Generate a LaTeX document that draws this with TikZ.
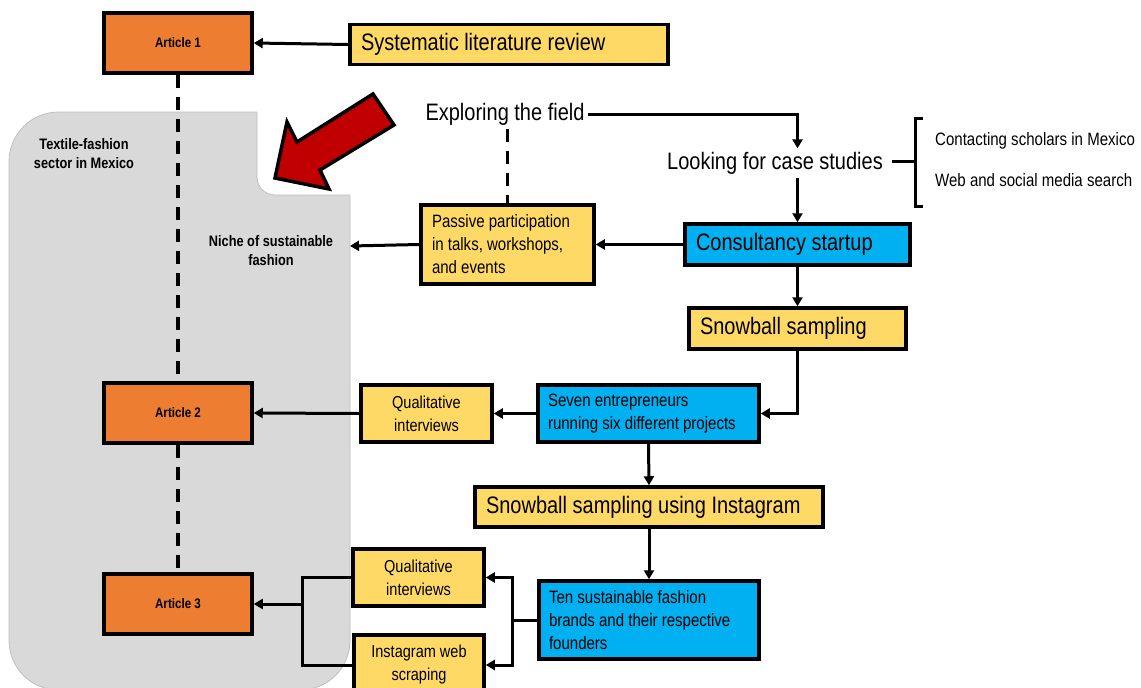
\documentclass[tikz,border=0pt]{standalone}
\usepackage{fontspec}
\setmainfont{Liberation Sans}
\newfontfamily\narrowsans{Liberation Sans}[FakeStretch=0.84]
\usetikzlibrary{arrows.meta}
\definecolor{artorange}{HTML}{ED7D31}
\definecolor{stepyellow}{HTML}{FFD966}
\definecolor{caseblue}{HTML}{00B0F0}
\definecolor{sectorgray}{HTML}{D9D9D9}
\definecolor{sectoredge}{HTML}{BFBFBF}
\definecolor{pointred}{HTML}{C00000}
\tikzset{
  box/.style={draw=black, line width=3.5pt, inner ysep=0pt},
  article/.style={box, fill=artorange, minimum width=148pt, minimum height=60pt,
    inner xsep=0pt, font=\narrowsans\bfseries\fontsize{13.8pt}{16pt}\selectfont},
  bigtext/.style={font=\narrowsans\fontsize{23.8pt}{28pt}\selectfont},
  smalltext/.style={font=\narrowsans\fontsize{17.9pt}{23pt}\selectfont},
  qualtext/.style={font=\narrowsans\fontsize{17.3pt}{23pt}\selectfont},
  labeltext/.style={font=\narrowsans\bfseries\fontsize{15.2pt}{19pt}\selectfont, align=flush center},
  ybig/.style={box, fill=stepyellow, bigtext, align=flush left, inner xsep=11pt},
  bbig/.style={box, fill=caseblue, bigtext, align=flush left, inner xsep=11pt},
  ysmall/.style={box, fill=stepyellow, qualtext, align=flush center, inner xsep=0pt},
  bsmall/.style={box, fill=caseblue, smalltext, align=flush left, inner xsep=10pt},
  conn/.style={line width=3pt, -{Triangle[length=9pt,width=10pt]}},
  plain/.style={line width=3pt},
  dashline/.style={line width=3.5pt, dash pattern=on 13pt off 9pt},
}
\begin{document}
\begin{tikzpicture}[x=1pt, y=-1pt]
\useasboundingbox (0,0) rectangle (1141,688);

% sector background with the notch for the niche
\filldraw[fill=sectorgray, draw=sectoredge, line width=0.8pt]
  (59,112) -- (257,112) -- (257,177) .. controls (257,187) and (265,195) .. (275,195)
  -- (350,195) -- (350,640) .. controls (350,668) and (328,690) .. (300,690)
  -- (59,690) .. controls (31,690) and (9,668) .. (9,640)
  -- (9,162) .. controls (9,134) and (31,112) .. (59,112) -- cycle;

% red block arrow into the niche
\filldraw[fill=pointred, draw=black, line width=3.5pt, line join=miter]
  (275,178) -- (287,122) -- (297,142) -- (373,94) -- (394,125) -- (320,170) -- (329,189) -- cycle;

\node[labeltext] (sector) at (84,154) {Textile-fashion\\sector in Mexico};
\node[labeltext] (niche) at (271,251) {Niche of sustainable\\fashion};
\coordinate (nicheedge) at (350,246);

% articles
\node[article] (art1) at (178,43) {Article 1};
\node[article] (art2) at (178,413) {Article 2};
\node[article] (art3) at (178,604) {Article 3};

% steps
\node[ybig, minimum height=40pt, text width=296pt] (slr) at (509,44.5) {Systematic literature review};
\node[bigtext] (explore) at (505,114) {Exploring the field};
\node[bigtext] (look) at (775,163) {Looking for case studies};
\node[smalltext, anchor=west, inner sep=0pt] (contact) at (935,141) {Contacting scholars in Mexico};
\node[smalltext, anchor=west, inner sep=0pt] (web) at (935,180) {Web and social media search};
\node[box, fill=stepyellow, smalltext, align=flush left, inner xsep=11pt, text width=151pt, minimum height=79pt] (passive) at (507.5,244.5)
  {Passive participation\\in talks, workshops,\\and events};
\node[bbig, text width=203pt, minimum height=41pt] (consult) at (797.5,244.5) {Consultancy startup};
\node[ybig, text width=195pt, minimum height=41pt] (snow) at (797.5,328.5) {Snowball sampling};
\node[ysmall, minimum width=131pt, minimum height=57pt] (qual1) at (426.5,413.5) {Qualitative\\interviews};
\node[bsmall, text width=201pt, minimum height=57pt] (seven) at (648.5,413.5)
  {Seven entrepreneurs\\running six different projects};
\node[ybig, text width=326pt, minimum height=40pt] (snowig) at (649,507) {Snowball sampling using Instagram};
\node[bsmall, text width=200pt, minimum height=78pt] (ten) at (649,620)
  {Ten sustainable fashion\\brands and their respective\\founders};
\node[ysmall, minimum width=131pt, minimum height=57pt] (qual2) at (418.5,577.5) {Qualitative\\interviews};
\node[ysmall, minimum width=130pt, minimum height=60pt] (insta) at (419,665) {Instagram web\\scraping};

% article timeline
\draw[dashline] (art1.south) -- (art2.north);
\draw[dashline] (art2.south) -- (art3.north);

% connectors
\draw[conn] (slr.west) -- (art1.east);
\draw[conn] (explore.east) -| (look.north -| consult);
\draw[dashline] (explore.south -| passive) -- (passive.north);
\draw[conn] (look.south -| consult) -- (consult.north);
\draw[conn] (consult.west) -- (passive.east);
\draw[conn] (passive.west) -- (nicheedge);
\draw[conn] (consult.south) -- (snow.north);
\draw[conn] (snow.south) |- (seven.east);
\draw[conn] (seven.west) -- (qual1.east);
\draw[conn] (qual1.west) -- (art2.east);
\draw[conn] (seven.south) -- (snowig.north);
\draw[conn] (snowig.south) -- (ten.north);

% split towards the two methods
\coordinate (split) at (512,620);
\draw[plain] (ten.west) -- (split);
\draw[conn] (split) |- (qual2.east);
\draw[conn] (split) |- (insta.east);

% join towards article 3
\coordinate (join) at (302,604);
\draw[plain, line join=miter] (qual2.west) -| (join) |- (insta.west);
\draw[conn] (join) -- (art3.east);

% brace for the search channels
\coordinate (bracetop) at (923,118);
\coordinate (bracebot) at (923,206);
\coordinate (bracemid) at (915,161);
\draw[plain] (892,161) -- (bracemid);
\draw[plain, line join=miter] (bracetop) -- (915,118) -- (915,206) -- (bracebot);
\end{tikzpicture}
\end{document}
